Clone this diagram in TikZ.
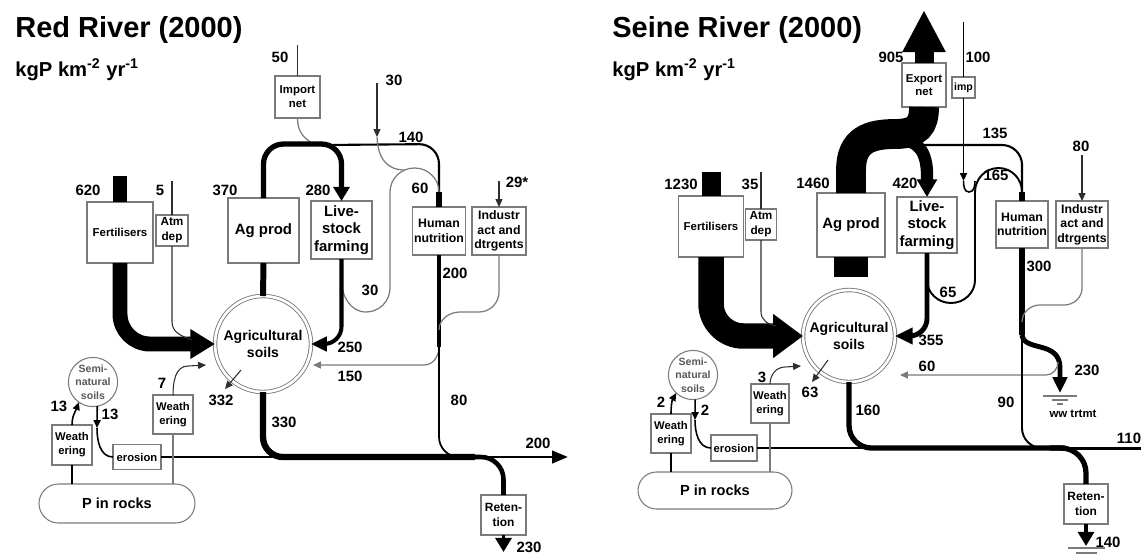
\documentclass[tikz,border=0pt]{standalone}
\usepackage{fontspec}
\setmainfont{Liberation Sans}
\usetikzlibrary{arrows.meta,calc}
\definecolor{gris}{HTML}{7A7A7A}
\definecolor{tinta}{HTML}{2E2E2E}

\begin{document}
\begin{tikzpicture}[x=0.02cm, y=-0.02cm,
  caja/.style={draw=gris, line width=0.6pt, fill=white, align=center, inner sep=0pt, outer sep=0pt},
  circ/.style={circle, draw=gris, line width=0.6pt, fill=white, align=center, inner sep=0pt, outer sep=0pt},
  grande/.style={font=\bfseries\fontsize{8.5}{9.9}\selectfont},
  media/.style={font=\bfseries\fontsize{7}{8.3}\selectfont},
  chica/.style={font=\bfseries\fontsize{6.4}{8}\selectfont},
  cifra/.style={font=\bfseries\fontsize{8.5}{9}\selectfont, inner sep=0pt},
  titulo/.style={font=\bfseries\fontsize{16.5}{18}\selectfont, inner sep=0pt, anchor=base west},
  unidad/.style={font=\bfseries\fontsize{11.5}{13}\selectfont, inner sep=0pt, anchor=base west},
  fino/.style={draw=tinta, line width=0.6pt},
  tenue/.style={draw=gris, line width=0.7pt},
  punta/.style={-{Triangle[length=4.5pt,width=4pt]}}]
\useasboundingbox (0,0) rectangle (1141,555);

% ---------------- Red River ----------------
\node[titulo] (tit1) at (15,37) {Red River (2000)};
\node[unidad] (uni1) at (15,76) {kgP km\textsuperscript{-2} yr\textsuperscript{-1}};

\node[caja, font=\bfseries\fontsize{6.5}{7.6}\selectfont, minimum width=1.32cm, minimum height=1.22cm] (fert1) at (120,232.5) {Fertilisers};
\node[caja, font=\bfseries\fontsize{6.7}{8.5}\selectfont, minimum width=0.64cm, minimum height=0.62cm] (atm1) at (172,230.5) {Atm\\dep};
\node[caja, grande, minimum width=1.42cm, minimum height=1.30cm] (agp1) at (263.5,230.5) {Ag prod};
\node[caja, font=\bfseries\fontsize{6.5}{7.9}\selectfont, minimum width=0.90cm, minimum height=0.84cm] (imp1) at (297.5,97) {Import\\net};
\node[caja, grande, minimum width=1.22cm, minimum height=1.16cm] (liv1) at (341.5,230) {Live-\\stock\\farming};
\node[caja, media, minimum width=1.06cm, minimum height=0.96cm] (hum1) at (439,231) {Human\\nutrition};
\node[caja, media, minimum width=1.08cm, minimum height=0.96cm] (ind1) at (499,231) {Industr\\act and\\dtrgents};
\node[circ, double, double distance=1.5pt, line width=0.5pt, minimum size=1.92cm, font=\bfseries\fontsize{8}{9.4}\selectfont] (soil1) at (263,344) {Agricultural\\soils};
\node[circ, minimum size=0.88cm, text=black!65, font=\bfseries\fontsize{6}{7.6}\selectfont] (semi1) at (93,382) {Semi-\\natural\\soils};
\node[caja, chica, minimum width=0.8cm, minimum height=0.8cm] (wea1a) at (72,445) {Weath\\ering};
\node[caja, chica, minimum width=0.8cm, minimum height=0.78cm] (wea1b) at (173,414.5) {Weath\\ering};
\node[caja, chica, minimum width=0.96cm, minimum height=0.5cm] (ero1) at (137,457) {erosion};
\node[caja, rounded corners=0.39cm, font=\bfseries\fontsize{8.3}{9}\selectfont, minimum width=3.12cm, minimum height=0.78cm] (rock1) at (117,503.5) {P in rocks};
\node[caja, font=\bfseries\fontsize{6.8}{8.5}\selectfont, minimum width=0.9cm, minimum height=0.8cm] (ret1) at (503.5,515) {Reten-\\tion};

\coordinate (e620) at (120,176);
\coordinate (e5) at (172,181);
\coordinate (j5) at (192,340);
\coordinate (e50) at (297.5,45);
\coordinate (j50) at (312,143);
\coordinate (top1) at (300,144);
\coordinate (e30) at (377,83);
\coordinate (d30) at (377,137);
\coordinate (u30) at (341.5,280);
\coordinate (a60) at (439,192);
\coordinate (e29) at (499,181);
\coordinate (h200) at (439,347);
\coordinate (t150) at (313,365);
\coordinate (t7) at (206,365);
\coordinate (d13) at (97,428);
\coordinate (p332) at (225,389);
\coordinate (o200) at (568,457);
\coordinate (o230) at (503.5,552);

% inputs
\draw[line width=8.5pt] (e620) -- (fert1.north);
\draw[fino] (e5) -- (atm1.north);
\draw[fino] (e50) -- (imp1.north);
\draw[fino, punta] (e30) -- (d30);
\draw[fino, punta] (e29) -- (ind1.north);

% soil inputs
\draw[line width=8.5pt, rounded corners=0.6cm, -{Triangle[length=14pt,width=16pt]}] (fert1.south) -- (fert1.south |- soil1.west) -- (soil1.west);
\draw[fino] (atm1.south) -- (172,322) to[out=-90,in=160] (j5);
\draw[line width=3.4pt] (agp1.south) -- (soil1.north);

% crop loop to livestock and people
\draw[tenue] (imp1.south) .. controls (297.5,132) and (304,138) .. (j50);
\draw[line width=1.2pt, rounded corners=0.4cm] (325,145) -- (hum1.north |- top1) -- (hum1.north);
\draw[line width=3pt, rounded corners=0.4cm, -{Triangle[length=8pt,width=9pt]}] (agp1.north) -- (agp1.north |- top1) -- (liv1.north |- top1) -- (liv1.north);
\draw[line width=3pt] (a60) -- (hum1.north);
\draw[tenue] (d30) .. controls (378,160) and (388,170) .. (405,170);
\draw[tenue] (u30) to[out=-90,in=180] (366,312) to[out=0,in=-90] (390,288) -- (390,192) to[out=90,in=180] (414.5,168) to[out=0,in=90] (a60);
\draw[line width=2.3pt, rounded corners=0.35cm, -{Triangle[length=9pt,width=8pt]}] (liv1.south) -- (liv1.south |- soil1.east) -- (soil1.east);

% people and industry
\draw[line width=2.8pt] (hum1.south) -- (h200);
\draw[tenue] (ind1.south) -- (499,292) to[out=-90,in=0] (479,312) -- (460,312) to[out=180,in=90] (439,330);
\draw[tenue, punta] (h200) to[out=-90,in=0] (424,365) -- (t150);
\draw[line width=1pt, rounded corners=0.4cm] (h200) -- (hum1.south |- o200) -- (480,457);

% soils to river
\draw[fino, punta] ($(soil1.center)+(-22,26)$) -- (p332);
\draw[line width=1pt] (ero1.east) -- (300,457);
\draw[line width=3.6pt, rounded corners=0.4cm] (soil1.south) -- (soil1.south |- o200) -- (475,457);
\draw[line width=1.6pt, -{Triangle[length=9pt,width=7pt]}] (470,457) -- (o200);
\draw[line width=2.6pt, rounded corners=0.45cm] (465,457) -- (ret1.north |- o200) -- (ret1.north);
\draw[line width=2.2pt, -{Triangle[length=8pt,width=9pt]}] (ret1.south) -- (o230);

% rocks and weathering
\draw[tenue] (wea1b.south) -- (wea1b.south |- rock1.north);
\draw[fino, punta] (wea1b.north) to[out=90,in=180] (188,366) -- (t7);
\draw[line width=1pt] (wea1a.south) -- (wea1a.south |- rock1.north);
\draw[line width=0.9pt, punta] (wea1a.north) to[out=90,in=-110] (semi1.235);
\draw[line width=0.9pt, punta] (semi1.-80) -- (d13);
\draw[line width=0.9pt] (d13) to[out=-90,in=180] (ero1.west);

\node[cifra] (l620) at (88,190) {620};
\node[cifra] (l5) at (160,190) {5};
\node[cifra] (l370) at (225,190) {370};
\node[cifra] (l50) at (280,57) {50};
\node[cifra] (l30a) at (394,80) {30};
\node[cifra] (l140) at (411,137) {140};
\node[cifra] (l280) at (318,190) {280};
\node[cifra] (l60) at (420,188) {60};
\node[cifra] (l29) at (517,182) {29*};
\node[cifra] (l200a) at (455,273) {200};
\node[cifra] (l30b) at (370,290) {30};
\node[cifra] (l250) at (350,347) {250};
\node[cifra] (l150) at (350,376) {150};
\node[cifra] (l80) at (459,400) {80};
\node[cifra] (l332) at (221,400) {332};
\node[cifra] (l330) at (284,422) {330};
\node[cifra] (l7) at (162,383) {7};
\node[cifra] (l13a) at (59,406) {13};
\node[cifra] (l13b) at (110,414) {13};
\node[cifra] (l200b) at (538,443) {200};
\node[cifra] (l230) at (529,547) {230};

% ---------------- Seine River ----------------
\node[titulo] (tit2) at (612,37) {Seine River (2000)};
\node[unidad] (uni2) at (612,76) {kgP km\textsuperscript{-2} yr\textsuperscript{-1}};

\node[caja, font=\bfseries\fontsize{6.5}{7.6}\selectfont, minimum width=1.30cm, minimum height=1.22cm] (fert2) at (711,226.5) {Fertilisers};
\node[caja, font=\bfseries\fontsize{6.7}{8.5}\selectfont, minimum width=0.62cm, minimum height=0.62cm] (atm2) at (761,224.5) {Atm\\dep};
\node[caja, grande, minimum width=1.36cm, minimum height=1.28cm] (agp2) at (851,225) {Ag prod};
\node[caja, font=\bfseries\fontsize{6.5}{7.6}\selectfont, minimum width=0.88cm, minimum height=0.88cm] (exp2) at (924,85) {Export\\net};
\node[caja, font=\bfseries\fontsize{6}{7}\selectfont, minimum width=0.46cm, minimum height=0.42cm] (imp2) at (963.5,87.5) {imp};
\node[caja, grande, minimum width=1.2cm, minimum height=1.12cm] (liv2) at (927,225) {Live-\\stock\\farming};
\node[caja, media, minimum width=1.04cm, minimum height=0.94cm] (hum2) at (1022,224.5) {Human\\nutrition};
\node[caja, media, minimum width=1.04cm, minimum height=0.94cm] (ind2) at (1082,224.5) {Industr\\act and\\dtrgents};
\node[circ, double, double distance=1.5pt, line width=0.5pt, minimum size=1.84cm, font=\bfseries\fontsize{8}{9.4}\selectfont] (soil2) at (849,336) {Agricultural\\soils};
\node[circ, minimum size=0.88cm, text=black!65, font=\bfseries\fontsize{6}{7.6}\selectfont] (semi2) at (693,375) {Semi-\\natural\\soils};
\node[caja, chica, minimum width=0.8cm, minimum height=0.78cm] (wea2a) at (671,433.5) {Weath\\ering};
\node[caja, chica, minimum width=0.76cm, minimum height=0.78cm] (wea2b) at (770,403.5) {Weath\\ering};
\node[caja, chica, minimum width=0.92cm, minimum height=0.52cm] (ero2) at (734,448) {erosion};
\node[caja, rounded corners=0.37cm, font=\bfseries\fontsize{8.3}{9}\selectfont, minimum width=3.08cm, minimum height=0.74cm] (rock2) at (715,490.5) {P in rocks};
\node[caja, font=\bfseries\fontsize{6.8}{8.5}\selectfont, minimum width=0.88cm, minimum height=0.8cm] (ret2) at (1086,504) {Reten-\\tion};
\node[font=\bfseries\fontsize{6.5}{7}\selectfont, inner sep=0pt] (ww2) at (1073,414) {ww trtmt};

\coordinate (e1230) at (711,172);
\coordinate (e35) at (761,172);
\coordinate (j35) at (776,326);
\coordinate (b1460) at (851,277);
\coordinate (o905) at (924,10);
\coordinate (b420) at (900,140);
\coordinate (b135) at (905,145);
\coordinate (e100) at (963.5,22);
\coordinate (d100) at (963.5,181);
\coordinate (u65) at (927,280);
\coordinate (a165) at (1022,192);
\coordinate (e80) at (1082,155);
\coordinate (h300) at (1022,335);
\coordinate (j60) at (1058,362);
\coordinate (t60) at (900,375);
\coordinate (g230) at (1060,393);
\coordinate (t3) at (801,366);
\coordinate (d2) at (695,420);
\coordinate (p63) at (812,382);
\coordinate (o110) at (1141,448);
\coordinate (o140) at (1086,546);

% inputs
\draw[line width=10.8pt] (e1230) -- (fert2.north);
\draw[fino] (e35) -- (atm2.north);
\draw[line width=0.9pt] (e100) -- (imp2.north);
\draw[line width=0.9pt, punta] (imp2.south) -- (d100);
\draw[fino, punta] (e80) -- (ind2.north);

% soil inputs
\draw[line width=14.5pt, rounded corners=0.65cm, -{Triangle[length=17pt,width=24pt]}] (fert2.south) -- (fert2.south |- soil2.west) -- (soil2.west);
\draw[fino] (atm2.south) -- (761,312) to[out=-90,in=170] (j35);
\draw[line width=19.8pt] (agp2.south) -- (b1460);

% crops to export, livestock and people
\draw[line width=17pt] (agp2.north) -- (851,170) .. controls (851,140) and (870,134) .. (895,134) .. controls (918,134) and (924,125) .. (exp2.south);
\draw[line width=10.8pt, -{Triangle[length=24pt,width=23pt]}] (exp2.north) -- (o905);
\draw[line width=7pt, -{Triangle[length=10pt,width=11pt]}] (b420) .. controls (918,140) and (927,152) .. (927,175) -- (liv2.north);
\draw[line width=1.2pt, rounded corners=0.4cm] (b135) -- (hum2.north |- b135) -- (hum2.north);
\draw[line width=0.9pt] (d100) to[out=-90,in=180] (969,192) to[out=0,in=-90] (975,181);
\draw[line width=1.1pt] (u65) to[out=-90,in=180] (951,303) to[out=0,in=-90] (975,280) -- (975,192) to[out=90,in=180] (998.5,168) to[out=0,in=90] (a165);
\draw[line width=3pt] (a165) -- (hum2.north);
\draw[line width=2.8pt, rounded corners=0.35cm, -{Triangle[length=10pt,width=9pt]}] (liv2.south) -- (liv2.south |- soil2.east) -- (soil2.east);

% people, industry and sewage
\draw[line width=3.2pt] (hum2.south) -- (h300);
\draw[tenue] (ind2.south) -- (1082,288) to[out=-90,in=0] (1064,305) -- (1040,305) to[out=180,in=90] (1022,322);
\draw[line width=2.8pt, -{Triangle[length=9pt,width=8pt]}] (h300) .. controls (1024,352) and (1060,340) .. (1060,368) -- (g230);
\draw[tenue, punta] (j60) to[out=-90,in=0] (1046,375) -- (t60);
\draw[gris, line width=0.8pt] (1043,396) -- (1077,396) (1052,400) -- (1068,400) (1057,404) -- (1063,404);
\draw[line width=1.1pt, rounded corners=0.4cm] (h300) -- (hum2.south |- o110) -- (1065,448);

% soils to river
\draw[fino, punta] ($(soil2.center)+(-21,24)$) -- (p63);
\draw[line width=1pt] (ero2.east) -- (870,448);
\draw[line width=3pt, rounded corners=0.45cm] (soil2.south) -- (soil2.south |- o110) -- (1065,448);
\draw[line width=1.7pt] (1060,448) -- (o110);
\draw[line width=3pt, rounded corners=0.5cm] (1050,448) -- (ret2.north |- o110) -- (ret2.north);
\draw[line width=2.4pt, -{Triangle[length=8pt,width=9pt]}] (ret2.south) -- (o140);
\draw[gris, line width=0.8pt] (1068,548) -- (1105,548) (1076,553) -- (1097,553);

% rocks and weathering
\draw[tenue] (wea2b.south) -- (wea2b.south |- rock2.north);
\draw[fino, punta] (wea2b.north) to[out=90,in=180] (785,367) -- (t3);
\draw[line width=1pt] (wea2a.south) -- (wea2a.south |- rock2.north);
\draw[line width=0.9pt, punta] (wea2a.north) to[out=90,in=-120] (semi2.227);
\draw[line width=0.9pt, punta] (semi2.-85) -- (d2);
\draw[line width=0.9pt] (d2) to[out=-90,in=180] (ero2.west);

\node[cifra] (l1230) at (681,184) {1230};
\node[cifra] (l35) at (750,184) {35};
\node[cifra] (l1460) at (813,183) {1460};
\node[cifra] (l905) at (891,57) {905};
\node[cifra] (l100) at (978,57) {100};
\node[cifra] (l135) at (995,133) {135};
\node[cifra] (l420) at (905,183) {420};
\node[cifra] (l165) at (996,175) {165};
\node[cifra] (l80b) at (1081,146) {80};
\node[cifra] (l65) at (948,292) {65};
\node[cifra] (l300) at (1039,266) {300};
\node[cifra] (l355) at (931,340) {355};
\node[cifra] (l60b) at (927,366) {60};
\node[cifra] (l230b) at (1087,370) {230};
\node[cifra] (l90) at (1006,402) {90};
\node[cifra] (l63) at (810,392) {63};
\node[cifra] (l160) at (868,410) {160};
\node[cifra] (l3) at (762,377) {3};
\node[cifra] (l2a) at (661,402) {2};
\node[cifra] (l2b) at (705,410) {2};
\node[cifra] (l110) at (1129,438) {110};
\node[cifra] (l140b) at (1108,542) {140};
\end{tikzpicture}
\end{document}
